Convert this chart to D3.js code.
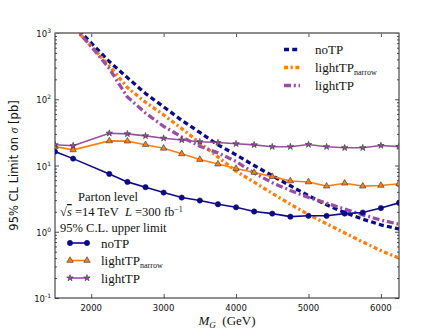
<!DOCTYPE html>
<html>
<head>
<meta charset="utf-8">
<script src="https://cdn.jsdelivr.net/npm/d3@7"></script>
<style>
  body { margin: 0; background: #fff; }
  svg { display: block; }
  .serif { font-family: "Liberation Serif", "Times New Roman", serif; }
  .sans { font-family: "DejaVu Sans", sans-serif; }
</style>
</head>
<body>
<div id="chart"></div>
<script>
// masses for the solid (marker) curves
const massPts = [1500, 1750, 2250, 2500, 2750, 3000, 3250, 3500, 3750, 4000, 4250, 4500, 4750, 5000, 5250, 5500, 5750, 6000, 6250];
const noTP = [16.2, 12.7, 7.47, 5.66, 4.71, 3.9, 3.28, 2.96, 2.6, 2.34, 2.02, 1.88, 1.69, 1.74, 1.74, 1.88, 1.95, 2.28, 2.73];
const lightTPnarrow = [19.3, 17.2, 23.5, 23.3, 20.6, 18.2, 15.0, 12.3, 10.5, 9.0, 7.85, 6.8, 5.85, 5.65, 4.88, 5.4, 4.88, 5.0, 5.3];
const lightTP = [20.6, 19.9, 30.7, 30.0, 28.0, 25.8, 24.3, 22.8, 22.2, 21.3, 20.5, 19.2, 19.2, 20.7, 19.2, 18.5, 18.5, 20.0, 19.3];

// masses for the dashed curves
const massXs = [1750, 2000, 2250, 2500, 2750, 3000, 3250, 3500, 3750, 4000, 4250, 4500, 4750, 5000, 5250, 5500, 5750, 6000, 6250];
const noTPxs = [1350, 706, 370, 212, 122, 77, 48, 31.5, 20.5, 14.5, 10.0, 7.0, 4.95, 3.5, 2.55, 1.95, 1.55, 1.27, 1.1];
const lightTPnarrowXs = [1250, 630, 320, 150, 90, 58, 36, 22, 13.5, 8.2, 5.6, 3.8, 2.6, 1.82, 1.32, 0.96, 0.7, 0.52, 0.4];
const lightTPXs = [1250, 630, 290, 108, 62, 39, 27, 19.5, 15.5, 11.5, 7.7, 5.5, 4.2, 3.3, 2.7, 2.2, 1.8, 1.5, 1.3];

const xTicks = [2000, 3000, 4000, 5000, 6000];
const yExps = [-1, 0, 1, 2, 3];

const navy = "#0b0b85";
const orange = "#ff7f0e";
const purple = "#984ea3";

const W = 443, H = 332;
const plot = { left: 55, right: 399, top: 33, bottom: 298 };

const svg = d3.select("#chart").append("svg").attr("width", W).attr("height", H);

const x = d3.scaleLinear().domain([1500, 6250]).range([plot.left, plot.right]);
const y = d3.scaleLog().domain([0.1, 1000]).range([plot.bottom, plot.top]);

svg.append("clipPath").attr("id", "clip")
  .append("rect")
  .attr("x", plot.left).attr("y", plot.top)
  .attr("width", plot.right - plot.left).attr("height", plot.bottom - plot.top);

// minor log ticks
const minorY = [];
yExps.slice(0, -1).forEach(e => {
  for (let k = 2; k <= 9; k++) minorY.push(k * Math.pow(10, e));
});

const axisG = svg.append("g");
const tickStyle = g => {
  g.select(".domain").remove();
  g.selectAll("line").attr("stroke", "#222").attr("stroke-width", 0.8);
  g.selectAll("text").remove();
};

axisG.append("g").attr("transform", `translate(0,${plot.bottom})`)
  .call(d3.axisBottom(x).tickValues(xTicks).tickSize(-4)).call(tickStyle);
axisG.append("g").attr("transform", `translate(0,${plot.top})`)
  .call(d3.axisTop(x).tickValues(xTicks).tickSize(-4)).call(tickStyle);
axisG.append("g").attr("transform", `translate(${plot.left},0)`)
  .call(d3.axisLeft(y).tickValues(yExps.map(e => Math.pow(10, e))).tickSize(-4)).call(tickStyle);
axisG.append("g").attr("transform", `translate(${plot.right},0)`)
  .call(d3.axisRight(y).tickValues(yExps.map(e => Math.pow(10, e))).tickSize(-4)).call(tickStyle);
axisG.append("g").attr("transform", `translate(${plot.left},0)`)
  .call(d3.axisLeft(y).tickValues(minorY).tickSize(-2)).call(tickStyle);
axisG.append("g").attr("transform", `translate(${plot.right},0)`)
  .call(d3.axisRight(y).tickValues(minorY).tickSize(-2)).call(tickStyle);

// tick labels
svg.append("g").selectAll("text").data(xTicks).join("text")
  .attr("class", "sans")
  .attr("x", d => x(d)).attr("y", plot.bottom + 13)
  .attr("text-anchor", "middle").attr("font-size", 8.5).attr("fill", "#111")
  .text(d => d);

const yl = svg.append("g").selectAll("text").data(yExps).join("text")
  .attr("class", "sans")
  .attr("x", plot.left - 4).attr("y", d => y(Math.pow(10, d)) + 4)
  .attr("text-anchor", "end").attr("font-size", 8.5).attr("fill", "#111");
yl.append("tspan").text("10");
yl.append("tspan").attr("dy", -4).attr("font-size", 6).text(d => d);

// frame
svg.append("rect")
  .attr("x", plot.left).attr("y", plot.top)
  .attr("width", plot.right - plot.left).attr("height", plot.bottom - plot.top)
  .attr("fill", "none").attr("stroke", "#222").attr("stroke-width", 1);
svg.append("line")
  .attr("x1", plot.left).attr("x2", plot.right).attr("y1", plot.top).attr("y2", plot.top)
  .attr("stroke", "#8a8a8a").attr("stroke-width", 1.6);

// axis titles
const yt = svg.append("text")
  .attr("class", "sans")
  .attr("transform", `translate(18,${(plot.top + plot.bottom) / 2}) rotate(-90)`)
  .attr("text-anchor", "middle").attr("font-size", 11.5).attr("fill", "#111");
yt.append("tspan").text("95% CL Limit on ");
yt.append("tspan").attr("font-family", "Liberation Serif, serif").attr("font-style", "italic").text("σ");
yt.append("tspan").text(" [pb]");

const xt = svg.append("text")
  .attr("class", "serif")
  .attr("x", (plot.left + plot.right) / 2).attr("y", 325)
  .attr("text-anchor", "middle").attr("font-size", 13).attr("fill", "#111");
xt.append("tspan").attr("font-style", "italic").text("M");
xt.append("tspan").attr("font-style", "italic").attr("font-size", 9).attr("dy", 3).text("G");
xt.append("tspan").attr("dy", -3).text("\u00a0\u00a0(GeV)");

// curves
const plotG = svg.append("g").attr("clip-path", "url(#clip)");
const line = d3.line().x(d => x(d[0])).y(d => y(d[1]));

const dashed = [
  { xs: massXs, ys: noTPxs, color: navy, dash: "5,3.2" },
  { xs: massXs, ys: lightTPnarrowXs, color: orange, dash: "4,2.6,2.2,2.6" },
  { xs: massXs, ys: lightTPXs, color: purple, dash: "7,2.8,2,2.8" }
];
dashed.forEach(s => {
  plotG.append("path")
    .attr("d", line(d3.zip(s.xs, s.ys)))
    .attr("fill", "none").attr("stroke", s.color)
    .attr("stroke-width", 3.3).attr("stroke-dasharray", s.dash);
});

const solid = [
  { ys: noTP, color: navy, sym: d3.symbolCircle, size: 22, edge: navy },
  { ys: lightTPnarrow, color: orange, sym: d3.symbolTriangle, size: 18, edge: "#333" },
  { ys: lightTP, color: purple, sym: d3.symbolStar, size: 13, edge: "#333" }
];
solid.forEach(s => {
  const pts = d3.zip(massPts, s.ys);
  plotG.append("path")
    .attr("d", line(pts))
    .attr("fill", "none").attr("stroke", s.color).attr("stroke-width", 1.6);
  plotG.append("g").selectAll("path").data(pts).join("path")
    .attr("transform", d => `translate(${x(d[0])},${y(d[1])})`)
    .attr("d", d3.symbol(s.sym, s.size))
    .attr("fill", s.color).attr("stroke", s.edge).attr("stroke-width", 0.6);
});

// annotation text
const note = svg.append("g").attr("class", "serif").attr("font-size", 12.5).attr("fill", "#111");
note.append("text").attr("x", 78).attr("y", 201).text("Parton level");
const rs = note.append("text").attr("x", 60).attr("y", 216);
rs.append("tspan").text("√");
rs.append("tspan").attr("font-style", "italic").attr("text-decoration", "overline").text("s");
rs.append("tspan").text("\u00a0=14 TeV\u00a0\u00a0");
rs.append("tspan").attr("font-style", "italic").text("L");
rs.append("tspan").text("\u00a0=300 fb");
rs.append("tspan").attr("dy", -4).attr("font-size", 8).text("−1");
note.append("text").attr("x", 60).attr("y", 232).text("95% C.L. upper limit");

// lower-left legend (solid curves)
const legLow = svg.append("g");
const lowNames = [["noTP", ""], ["lightTP", "narrow"], ["lightTP", ""]];
solid.forEach((s, i) => {
  const ly = 243 + i * 17.5;
  legLow.append("line").attr("x1", 70).attr("x2", 87).attr("y1", ly).attr("y2", ly)
    .attr("stroke", s.color).attr("stroke-width", 1.6);
  [70, 87].forEach(px => {
    legLow.append("path").attr("transform", `translate(${px},${ly})`)
      .attr("d", d3.symbol(s.sym, s.size))
      .attr("fill", s.color).attr("stroke", s.edge).attr("stroke-width", 0.6);
  });
  const t = legLow.append("text").attr("class", "serif").attr("x", 101).attr("y", ly + 4.5)
    .attr("font-size", 13).attr("fill", "#111");
  t.append("tspan").text(lowNames[i][0]);
  if (lowNames[i][1]) t.append("tspan").attr("dy", 3).attr("font-size", 8).text(lowNames[i][1]);
});

// upper-right legend (dashed curves)
const legHigh = svg.append("g");
dashed.forEach((s, i) => {
  const ly = 49.5 + i * 18;
  legHigh.append("line").attr("x1", 284).attr("x2", 300).attr("y1", ly).attr("y2", ly)
    .attr("stroke", s.color).attr("stroke-width", 3.3).attr("stroke-dasharray", s.dash);
  const t = legHigh.append("text").attr("class", "serif").attr("x", 315).attr("y", ly + 4.5)
    .attr("font-size", 13).attr("fill", "#111");
  t.append("tspan").text(lowNames[i][0]);
  if (lowNames[i][1]) t.append("tspan").attr("dy", 3).attr("font-size", 8).text(lowNames[i][1]);
});
</script>
</body>
</html>
